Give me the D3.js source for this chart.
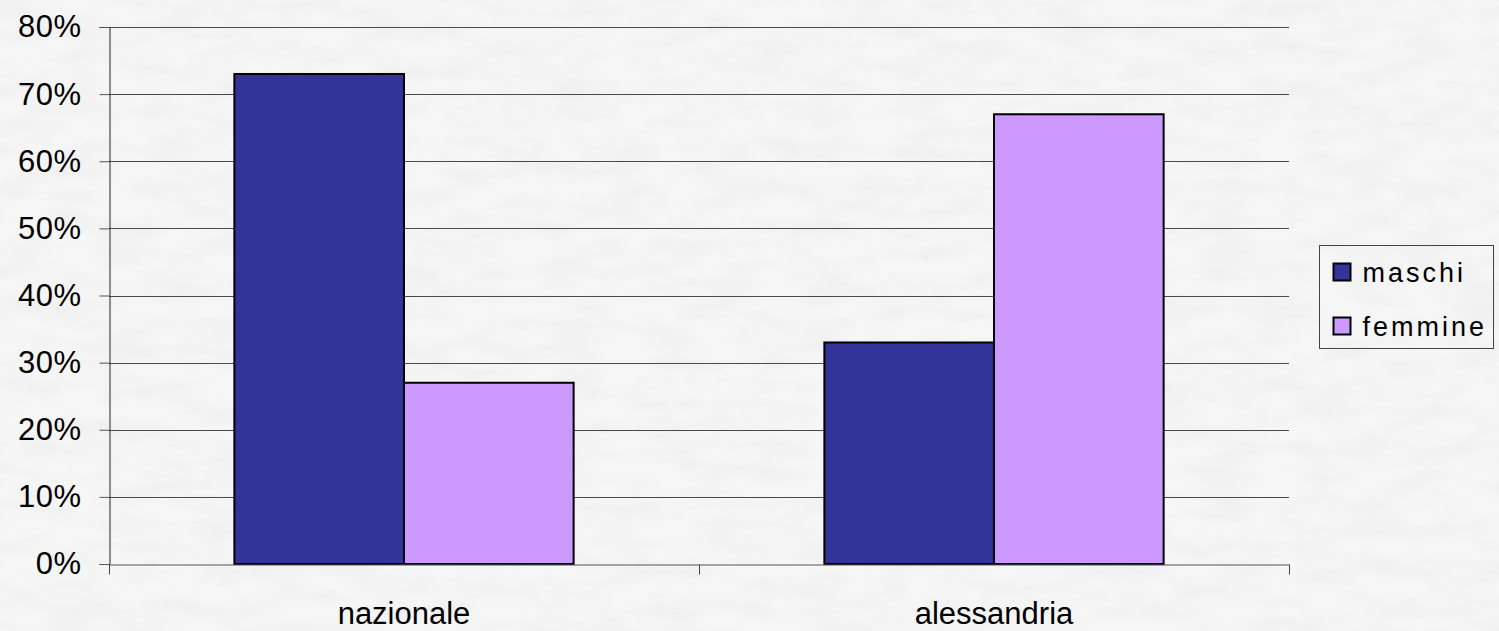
<!DOCTYPE html>
<html>
<head>
<meta charset="utf-8">
<script src="https://cdn.jsdelivr.net/npm/d3@7"></script>
<style>
  html, body { margin: 0; padding: 0; background: #f3f3f3; }
  svg { display: block; }
  text { font-family: "Liberation Sans", Arial, sans-serif; fill: #000; }
</style>
</head>
<body>
<script>
// Share of maschi / femmine per area
const categories = ["nazionale", "alessandria"];
const seriesNames = ["maschi", "femmine"];
const maschi = [0.73, 0.33];
const femmine = [0.27, 0.67];
const yTicks = [0, 0.1, 0.2, 0.3, 0.4, 0.5, 0.6, 0.7, 0.8];
const colors = ["#333399", "#CC99FF"];

const W = 1499, H = 631;
const margin = { left: 109, right: 210, top: 27, bottom: 67 };
const plotW = 1289 - margin.left;
const plotH = 564 - margin.top;

const svg = d3.select("body").append("svg")
  .attr("width", W).attr("height", H);

// paper-like textured background
const defs = svg.append("defs");
const f = defs.append("filter").attr("id", "paper")
  .attr("x", 0).attr("y", 0).attr("width", "100%").attr("height", "100%");
f.append("feTurbulence").attr("type", "fractalNoise")
  .attr("baseFrequency", "0.02 0.05").attr("numOctaves", 4).attr("seed", 11);
f.append("feColorMatrix").attr("type", "matrix")
  .attr("values", "0 0 0 0 0.5  0 0 0 0 0.5  0 0 0 0 0.5  0.22 0 0 0 -0.08");
svg.append("rect").attr("width", W).attr("height", H).attr("fill", "#f6f6f6");
svg.append("rect").attr("width", W).attr("height", H).attr("filter", "url(#paper)");

const g = svg.append("g").attr("transform", `translate(${margin.left},${margin.top})`);

const x0 = d3.scaleBand().domain(categories).range([0, plotW]).paddingInner(0).paddingOuter(0);
const groupW = x0.bandwidth() * 0.575;
const x1 = d3.scaleBand().domain(seriesNames).range([0, groupW]).padding(0);
const y = d3.scaleLinear().domain([0, 0.8]).range([plotH, 0]);

// gridlines
g.append("g").selectAll("line").data(yTicks.filter(t => t > 0)).join("line")
  .attr("x1", 0).attr("x2", plotW)
  .attr("y1", d => Math.round(y(d)) + 0.5).attr("y2", d => Math.round(y(d)) + 0.5)
  .attr("stroke", "#4a4a4a").attr("stroke-width", 1);

// y axis
const yAxis = d3.axisLeft(y).tickValues(yTicks).tickFormat(d3.format(".0%"))
  .tickSize(10).tickPadding(18);
const ya = g.append("g").attr("transform", "translate(0.5,0)").call(yAxis);
ya.select(".domain").attr("stroke", "#222");
ya.selectAll(".tick line").attr("stroke", "#555");
ya.selectAll("text").style("font-size", "31px").style("letter-spacing", "0.5px")
  .style("font-family", "'Liberation Sans', Arial, sans-serif").attr("fill", "#000");

// bars
const data = categories.map((c, i) => ({ cat: c, vals: [maschi[i], femmine[i]] }));
const groups = g.append("g").selectAll("g").data(data).join("g")
  .attr("transform", d => `translate(${x0(d.cat) + (x0.bandwidth() - groupW) / 2},0)`);
groups.selectAll("rect").data(d => d.vals.map((v, k) => ({ v, k }))).join("rect")
  .attr("x", d => x1(seriesNames[d.k]))
  .attr("y", d => y(d.v))
  .attr("width", x1.bandwidth())
  .attr("height", d => plotH - y(d.v))
  .attr("fill", d => colors[d.k])
  .attr("stroke", "#000").attr("stroke-width", 2);

// x axis
const xAxis = d3.axisBottom(x0).tickSize(0).tickPadding(37);
const xa = g.append("g").attr("transform", `translate(0,${plotH + 0.5})`).call(xAxis);
xa.select(".domain").attr("stroke", "#555");
xa.selectAll("text").style("font-size", "31px")
  .style("font-family", "'Liberation Sans', Arial, sans-serif").attr("fill", "#000");
// boundary ticks between categories
const bounds = [0, ...categories.map(c => x0(c) + x0.bandwidth())];
xa.selectAll(".bound").data(bounds).join("line").attr("class", "bound")
  .attr("x1", d => Math.round(d) + 0.5).attr("x2", d => Math.round(d) + 0.5)
  .attr("y1", 0).attr("y2", 10).attr("stroke", "#444");

// legend
const lg = svg.append("g").attr("transform", "translate(1319.5,245.5)");
lg.append("rect").attr("width", 174).attr("height", 103)
  .attr("fill", "none").attr("stroke", "#444").attr("stroke-width", 1);
const items = lg.selectAll("g.item").data(seriesNames).join("g").attr("class", "item")
  .attr("transform", (d, i) => `translate(14,${18 + i * 54})`);
items.append("rect").attr("width", 17).attr("height", 17)
  .attr("fill", (d, i) => colors[i]).attr("stroke", "#000").attr("stroke-width", 2);
items.append("text").attr("x", 29).attr("y", 18)
  .style("font-size", "27px").style("letter-spacing", "3px").text(d => d);
</script>
</body>
</html>
